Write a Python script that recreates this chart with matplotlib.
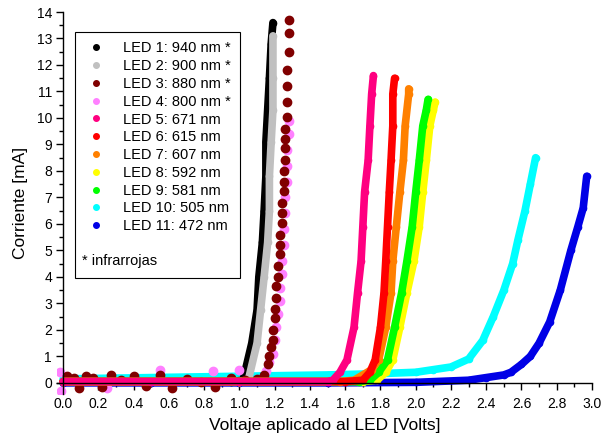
import matplotlib.pyplot as plt
from matplotlib.lines import Line2D
from matplotlib.ticker import MultipleLocator, FormatStrFormatter

plt.rcParams['font.family'] = ['Liberation Sans', 'DejaVu Sans']

# --- Data (Volts, mA) ---
labels = ["LED 1: 940 nm *", "LED 2: 900 nm *", "LED 3: 880 nm *", "LED 4: 800 nm *",
          "LED 5: 671 nm", "LED 6: 615 nm", "LED 7: 607 nm", "LED 8: 592 nm",
          "LED 9: 581 nm", "LED 10: 505 nm", "LED 11: 472 nm"]
colors = ["#000000", "#c0c0c0", "#800000", "#ff80ff", "#ff0080", "#ff0000",
          "#ff8000", "#ffff00", "#00ff00", "#00ffff", "#0000e6"]

v1 = [0.0, 0.5, 0.95, 1.02, 1.07, 1.10, 1.11, 1.13, 1.14, 1.15, 1.15, 1.16, 1.17, 1.18, 1.19]
i1 = [0.05, 0.05, 0.05, 0.1, 1.5, 2.75, 4.0, 5.3, 6.5, 7.8, 9.1, 10.3, 11.5, 12.8, 13.6]

v2 = [0.0, 0.5, 1.0, 1.05, 1.10, 1.12, 1.14, 1.16, 1.17, 1.17, 1.18, 1.19, 1.19, 1.19]
i2 = [0.05, 0.05, 0.05, 0.1, 1.5, 2.75, 4.0, 5.3, 6.5, 7.8, 9.1, 10.3, 11.5, 13.1]

# LED 3: scattered baseline dots, then the rising chain of dots
v3 = [0.02, 0.06, 0.09, 0.13, 0.17, 0.22, 0.27, 0.33, 0.40, 0.47, 0.55, 0.62, 0.70,
      0.78, 0.86, 0.95, 1.03, 1.10,
      1.14, 1.16, 1.17, 1.18, 1.19, 1.19, 1.20, 1.20, 1.21, 1.21, 1.22, 1.22, 1.23,
      1.23, 1.23, 1.24, 1.24, 1.24, 1.25, 1.25, 1.25, 1.26, 1.26, 1.26, 1.26, 1.27,
      1.27, 1.27, 1.27, 1.28, 1.28, 1.28]
i3 = [0.25, 0.2, -0.2, 0.25, 0.2, -0.15, 0.3, 0.1, 0.25, -0.1, 0.3, -0.2, 0.15,
      0.05, -0.15, 0.2, 0.1, 0.15,
      0.3, 0.7, 1.0, 1.35, 1.6, 2.0, 2.45, 2.8, 3.2, 3.65, 4.0, 4.4, 4.85,
      5.2, 5.6, 6.05, 6.4, 6.8, 7.25, 7.6, 8.0, 8.4, 8.85, 9.2, 9.6, 10.05,
      10.6, 11.2, 11.8, 12.5, 13.2, 13.7]

v4 = [-0.02, -0.01, 0.25, 0.55, 0.85, 1.0,
      1.13, 1.15, 1.17, 1.19, 1.20, 1.21, 1.22, 1.23, 1.23, 1.24, 1.24, 1.25, 1.25,
      1.26, 1.26, 1.27, 1.27, 1.27, 1.28, 1.28]
i4 = [0.4, -0.3, -0.2, 0.5, 0.45, 0.5,
      0.2, 0.45, 0.8, 1.1, 1.6, 2.1, 2.6, 3.1, 3.6, 4.1, 4.6, 5.2, 5.8,
      6.4, 7.0, 7.6, 8.2, 8.8, 9.4, 9.9]

v5 = [0.0, 0.5, 1.0, 1.5, 1.53, 1.57, 1.61, 1.65, 1.67, 1.69, 1.70, 1.71, 1.73, 1.74, 1.75, 1.76]
i5 = [0.05, 0.05, 0.05, 0.05, 0.1, 0.4, 0.87, 2.1, 3.4, 4.6, 5.9, 7.2, 8.4, 9.7, 10.9, 11.6]

v6 = [0.0, 1.0, 1.6, 1.70, 1.74, 1.77, 1.80, 1.82, 1.83, 1.84, 1.85, 1.86, 1.87, 1.87, 1.88]
i6 = [0.05, 0.05, 0.05, 0.1, 0.4, 0.87, 2.1, 3.4, 4.6, 5.9, 7.2, 8.4, 9.7, 10.9, 11.5]

v7 = [0.0, 1.0, 1.57, 1.65, 1.70, 1.75, 1.79, 1.83, 1.86, 1.87, 1.89, 1.91, 1.93, 1.94, 1.96, 1.96]
i7 = [0.05, 0.05, 0.05, 0.1, 0.3, 0.5, 0.87, 2.1, 3.4, 4.6, 5.9, 7.2, 8.4, 9.7, 10.9, 11.1]

v8 = [0.0, 1.0, 1.7, 1.78, 1.83, 1.87, 1.91, 1.95, 1.99, 2.02, 2.04, 2.06, 2.08, 2.10, 2.11]
i8 = [0.05, 0.05, 0.05, 0.1, 0.4, 0.87, 2.1, 3.4, 4.6, 5.9, 7.2, 8.4, 9.7, 10.3, 10.6]

v9 = [0.0, 1.0, 1.68, 1.74, 1.79, 1.84, 1.88, 1.92, 1.95, 1.98, 2.00, 2.02, 2.04, 2.06, 2.07]
i9 = [0.05, 0.05, 0.05, 0.1, 0.4, 0.87, 2.1, 3.4, 4.6, 5.9, 7.2, 8.4, 9.7, 10.3, 10.7]

v10 = [0.0, 0.5, 1.0, 1.5, 1.8, 2.0, 2.1, 2.2, 2.3, 2.38, 2.44, 2.50, 2.55, 2.58, 2.62, 2.65, 2.68]
i10 = [0.15, 0.2, 0.25, 0.3, 0.35, 0.4, 0.5, 0.6, 0.9, 1.6, 2.5, 3.5, 4.5, 5.4, 6.5, 7.5, 8.5]

v11 = [0.0, 0.5, 1.0, 1.5, 2.0, 2.3, 2.4, 2.5, 2.54, 2.6, 2.65, 2.7, 2.76, 2.82, 2.88, 2.92, 2.95, 2.97]
i11 = [0.0, 0.0, 0.0, 0.0, 0.02, 0.1, 0.2, 0.3, 0.4, 0.7, 1.0, 1.5, 2.3, 3.5, 5.0, 5.9, 6.6, 7.8]

volts = [v1, v2, v3, v4, v5, v6, v7, v8, v9, v10, v11]
amps = [i1, i2, i3, i4, i5, i6, i7, i8, i9, i10, i11]

# --- Figure ---
fig = plt.figure(figsize=(6.01, 4.33), dpi=100)
ax = fig.add_axes([57 / 601, 39 / 433, 535 / 601, 382 / 433])

draw_order = [10, 9, 0, 1, 3, 2, 7, 8, 6, 5, 4]
for k in draw_order:
    if k in (2, 3):
        # dotted-looking infrared traces
        ax.plot(volts[k], amps[k], 'o', color=colors[k], ms=6, zorder=3)
    else:
        ax.plot(volts[k], amps[k], '-o', color=colors[k], lw=5.5, ms=4.5,
                solid_capstyle='round', solid_joinstyle='round', zorder=3)

ax.set_xlim(-0.035, 3.0)
ax.set_ylim(-0.42, 14)
ax.spines['left'].set_position(('data', 0))
ax.spines['bottom'].set_position(('data', 0))
ax.spines['top'].set_visible(False)
ax.spines['right'].set_visible(False)
for s in ('left', 'bottom'):
    ax.spines[s].set_linewidth(1.0)
    ax.spines[s].set_zorder(4)

ax.xaxis.set_major_locator(MultipleLocator(0.2))
ax.xaxis.set_minor_locator(MultipleLocator(0.1))
ax.xaxis.set_major_formatter(FormatStrFormatter('%.1f'))
ax.yaxis.set_major_locator(MultipleLocator(1))
ax.yaxis.set_minor_locator(MultipleLocator(0.5))
ax.tick_params(which='major', direction='out', length=5, width=1, labelsize=10, pad=3)
ax.tick_params(axis='x', which='major', pad=5)
ax.tick_params(which='minor', direction='out', length=3, width=1)

ax.set_xlabel("Voltaje aplicado al LED [Volts]", fontsize=12.5, labelpad=5)
ax.set_ylabel("Corriente [mA]", fontsize=12.5, labelpad=6)

handles = [Line2D([], [], ls='none', marker='o', ms=4, color=c) for c in colors]
handles += [Line2D([], [], ls='none'), Line2D([], [], ls='none')]
leg = ax.legend(handles, labels + [" ", " "], loc='upper left',
                bbox_to_anchor=(0.034, 0.948), fontsize=10.5, frameon=True,
                fancybox=False, edgecolor='black', framealpha=1,
                handlelength=1.6, handletextpad=1.0, labelspacing=0.26,
                borderpad=0.65, borderaxespad=0)
leg.get_frame().set_linewidth(0.8)
leg.set_zorder(5)
ax.text(0.047, 0.348, "* infrarrojas", transform=ax.transAxes, fontsize=10.5,
        va='center', ha='left', zorder=6)

fig.savefig("out.png", dpi=100)
